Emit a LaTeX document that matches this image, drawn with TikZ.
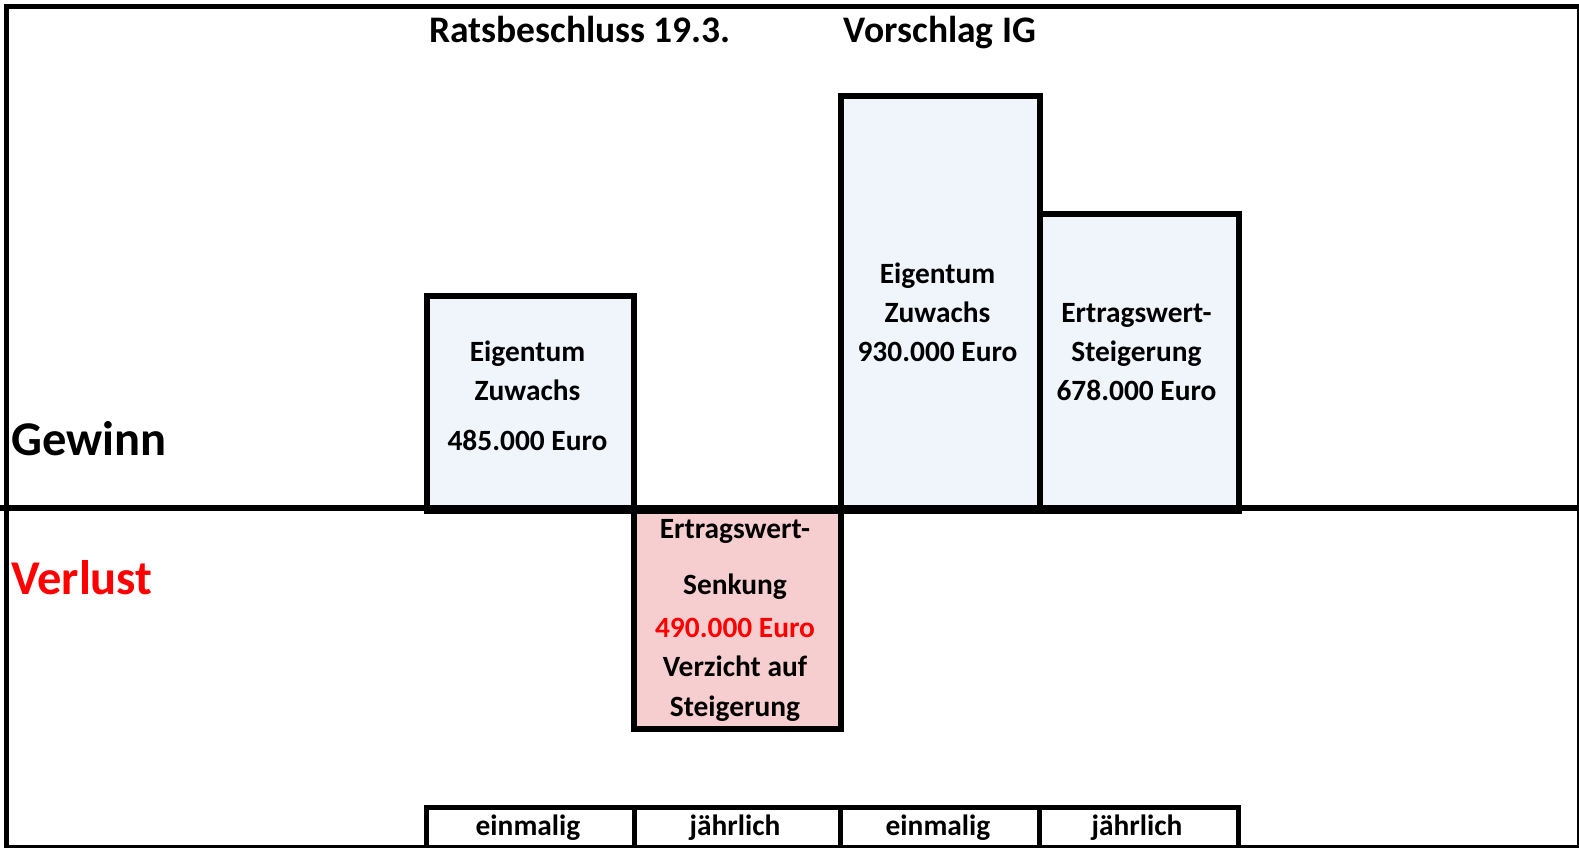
\documentclass[tikz,border=0pt]{standalone}
\usepackage{fontspec}
\setmainfont{Carlito}
\definecolor{gainfill}{RGB}{240,245,252}
\definecolor{lossfill}{RGB}{247,206,208}
\definecolor{lossred}{RGB}{255,0,0}
\tikzset{
  bar/.style={draw=black, line width=5.5pt, inner sep=0pt, anchor=north west},
  cell/.style={draw=black, line width=4.5pt, inner sep=0pt, anchor=north west, minimum height=40pt},
  txt/.style={font=\fontsize{29.4}{34}\selectfont\bfseries, anchor=base, inner sep=0pt},
  title/.style={font=\fontsize{37.5}{44}\selectfont\bfseries, anchor=base, inner sep=0pt},
  side/.style={font=\fontsize{48.5}{56}\selectfont\bfseries, anchor=base west, inner sep=0pt},
}
\begin{document}
\begin{tikzpicture}[x=1pt,y=-1pt]
\useasboundingbox (0,0) rectangle (1579,847);
% bars
\node[bar, fill=gainfill, minimum width=207pt, minimum height=215pt] (b1) at (424,293) {};
\node[bar, fill=lossfill, minimum width=207pt, minimum height=218pt] (b2) at (631,508) {};
\node[bar, fill=gainfill, minimum width=199pt, minimum height=415pt] (b3) at (838,93) {};
\node[bar, fill=gainfill, minimum width=199pt, minimum height=297pt] (b4) at (1037,211) {};
% outer frame and axis
\coordinate (axl) at (0,508);
\coordinate (axr) at (1577,508);
\draw[line width=6pt] (axl) -- (axr);
\node[draw=black, line width=5pt, inner sep=0pt, anchor=north west, minimum width=1573pt, minimum height=841pt] (frame) at (4,4) {};
% bottom row
\node[cell, minimum width=208pt] (c1) at (424,805) {};
\node[cell, minimum width=206pt] (c2) at (632,805) {};
\node[cell, minimum width=199pt] (c3) at (838,805) {};
\node[cell, minimum width=199pt] (c4) at (1037,805) {};
\node[txt] (l1) at (528,835) {einmalig};
\node[txt] (l2) at (735,835) {jährlich};
\node[txt] (l3) at (938,835) {einmalig};
\node[txt] (l4) at (1137,835) {jährlich};
% titles
\node[title] (t1) at (580,42) {Ratsbeschluss 19.3.};
\node[title] (t2) at (940,42) {Vorschlag IG};
\node[side] (gain) at (11,455) {Gewinn};
\node[side, text=lossred] (loss) at (11,594) {Verlust};
% box 1 text
\node[txt] (b1a) at (527.5,361) {Eigentum};
\node[txt] (b1b) at (527.5,400) {Zuwachs};
\node[txt] (b1c) at (527.5,450) {485.000 Euro};
% box 2 text
\node[txt] (b2a) at (735,538) {Ertragswert-};
\node[txt] (b2b) at (735,594) {Senkung};
\node[txt, text=lossred] (b2c) at (735,637) {490.000 Euro};
\node[txt] (b2d) at (735,676) {Verzicht auf};
\node[txt] (b2e) at (735,716) {Steigerung};
% box 3 text
\node[txt] (b3a) at (937.5,283) {Eigentum};
\node[txt] (b3b) at (937.5,322) {Zuwachs};
\node[txt] (b3c) at (937.5,361) {930.000 Euro};
% box 4 text
\node[txt] (b4a) at (1136.5,322) {Ertragswert-};
\node[txt] (b4b) at (1136.5,361) {Steigerung};
\node[txt] (b4c) at (1136.5,400) {678.000 Euro};
\end{tikzpicture}
\end{document}
